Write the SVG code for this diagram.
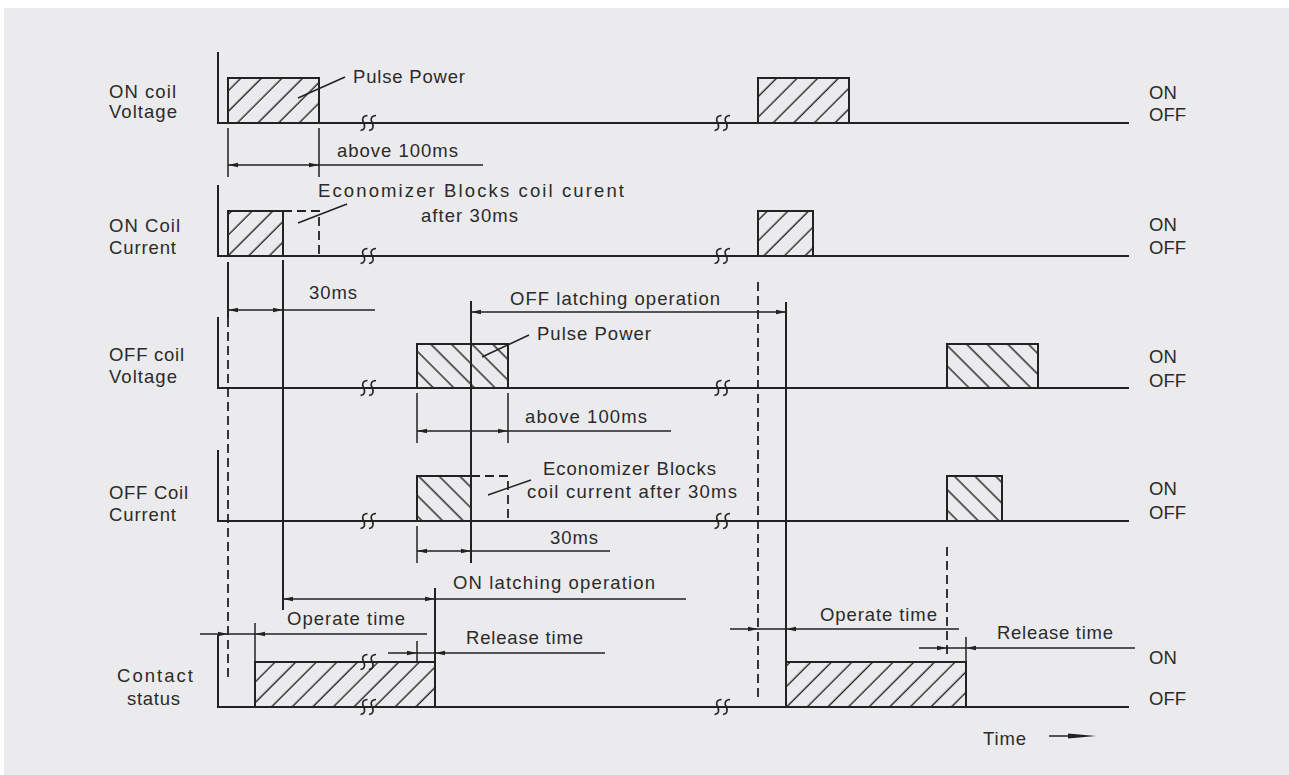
<svg xmlns="http://www.w3.org/2000/svg" width="1289" height="775" viewBox="0 0 1289 775">
<style>
.ln{stroke:#222;stroke-width:2;fill:none}
.dim{stroke:#222;stroke-width:1.5;fill:none}
.dash{stroke:#222;stroke-width:1.8;fill:none;stroke-dasharray:9 5}
.hr{fill:url(#hR);stroke:#222;stroke-width:2}
.hl{fill:url(#hL);stroke:#222;stroke-width:2}
.t{font-family:"Liberation Sans",Arial,sans-serif;font-size:18.5px;fill:#2a2a2a}
.brk{stroke:#222;stroke-width:1.6;fill:none}
.ar{marker-end:url(#ar)}
.ar2{marker-start:url(#ar);marker-end:url(#ar)}
</style>
<defs>
<pattern id="hR" patternUnits="userSpaceOnUse" width="14.57" height="10" patternTransform="rotate(45)"><line x1="7.1" y1="-1" x2="7.1" y2="11" stroke="#222" stroke-width="1.4"/></pattern>
<pattern id="hL" patternUnits="userSpaceOnUse" width="14.57" height="10" patternTransform="rotate(-45)"><line x1="3" y1="-1" x2="3" y2="11" stroke="#222" stroke-width="1.4"/></pattern>
<marker id="ar" markerUnits="userSpaceOnUse" markerWidth="10" markerHeight="6" refX="10" refY="3" orient="auto-start-reverse" viewBox="0 0 10 6"><path d="M0,0.7 L10,3 L0,5.3z" fill="#222"/></marker>
<g id="brk" class="brk"><path d="M-0.5,-7.5 C-5,-7.5 -6.5,-4 -4.5,-0.5 C-2.5,3 -3,7 -7.5,7.5"/><path d="M8,-7.5 C3.5,-7.5 2,-4 4,-0.5 C6,3 5.5,7 1,7.5"/></g>
</defs>
<rect x="0" y="0" width="1289" height="775" fill="#ffffff"/>
<rect x="4" y="8" width="1285" height="767" fill="#ebebed"/>

<g id="labels-left">
<text class="t" x="109" y="98" textLength="67" lengthAdjust="spacing">ON coil</text>
<text class="t" x="109" y="117.5" textLength="68" lengthAdjust="spacing">Voltage</text>
<text class="t" x="109" y="232" textLength="71" lengthAdjust="spacing">ON Coil</text>
<text class="t" x="109" y="254" textLength="67" lengthAdjust="spacing">Current</text>
<text class="t" x="109" y="361" textLength="75" lengthAdjust="spacing">OFF coil</text>
<text class="t" x="109" y="383" textLength="68" lengthAdjust="spacing">Voltage</text>
<text class="t" x="109" y="499" textLength="79" lengthAdjust="spacing">OFF Coil</text>
<text class="t" x="109" y="521" textLength="67" lengthAdjust="spacing">Current</text>
<text class="t" x="117" y="682" textLength="76" lengthAdjust="spacing">Contact</text>
<text class="t" x="127" y="705" textLength="53" lengthAdjust="spacing">status</text>
</g>

<g id="labels-right">
<text class="t" x="1149" y="99">ON</text>
<text class="t" x="1149" y="121">OFF</text>
<text class="t" x="1149" y="231">ON</text>
<text class="t" x="1149" y="254">OFF</text>
<text class="t" x="1149" y="363">ON</text>
<text class="t" x="1149" y="387">OFF</text>
<text class="t" x="1149" y="495">ON</text>
<text class="t" x="1149" y="519">OFF</text>
<text class="t" x="1149" y="664">ON</text>
<text class="t" x="1149" y="705">OFF</text>
</g>

<g id="row-on-coil-voltage">
<path class="ln" d="M218,52 V123 H1129"/>
<rect class="hr" x="228" y="78" width="91" height="45"/>
<rect class="hr" x="758" y="78" width="91" height="45"/>
<use href="#brk" x="368" y="123"/>
<use href="#brk" x="722" y="123"/>
<text class="t" x="353" y="82.5" textLength="112" lengthAdjust="spacing">Pulse Power</text>
</g>

<g id="row-on-coil-current">
<path class="ln" d="M218,185 V256 H1129"/>
<rect class="hr" x="228" y="211" width="55" height="45"/>
<rect class="hr" x="758" y="211" width="55" height="45"/>
<path class="dash" d="M283,211 H319 V256"/>
<use href="#brk" x="368" y="256"/>
<use href="#brk" x="722" y="256"/>
<text class="t" x="318" y="197" textLength="306" lengthAdjust="spacing">Economizer Blocks coil curent</text>
<text class="t" x="421" y="221.5" textLength="97" lengthAdjust="spacing">after 30ms</text>
</g>

<g id="row-off-coil-voltage">
<path class="ln" d="M218,317 V388 H1129"/>
<rect class="hl" x="417" y="344" width="91" height="44"/>
<rect class="hl" x="947" y="344" width="91" height="44"/>
<use href="#brk" x="368" y="388"/>
<use href="#brk" x="722" y="388"/>
<text class="t" x="537" y="340" textLength="114" lengthAdjust="spacing">Pulse Power</text>
</g>

<g id="row-off-coil-current">
<path class="ln" d="M218,450 V521 H1129"/>
<rect class="hl" x="417" y="476" width="54" height="45"/>
<rect class="hl" x="947" y="476" width="55" height="45"/>
<path class="dash" d="M471,476 H508 V521"/>
<use href="#brk" x="368" y="521"/>
<use href="#brk" x="722" y="521"/>
<text class="t" x="543" y="475" textLength="173" lengthAdjust="spacing">Economizer Blocks</text>
<text class="t" x="527" y="497.5" textLength="210" lengthAdjust="spacing">coil current after 30ms</text>
</g>

<g id="row-contact-status">
<path class="ln" d="M218,635 V707 H1129"/>
<rect class="hr" x="255" y="662" width="180" height="45"/>
<rect class="hr" x="786" y="662" width="180" height="45"/>
<use href="#brk" x="368" y="662"/>
<use href="#brk" x="368" y="707"/>
<use href="#brk" x="722" y="707"/>
</g>

<g id="connectors">
<!-- leaders -->
<path class="dim" d="M298,98 L345,77"/>
<path class="dim" d="M298,223 L347,204"/>
<path class="dim" d="M482,357 L529,335"/>
<path class="dim" d="M488,495 L531,480"/>

<!-- ON coil voltage: above 100ms -->
<path class="dim" d="M228,128 V177 M319,128 V177"/>
<path class="dim ar2" d="M228,165 H319"/>
<path class="dim" d="M319,165 H483"/>
<text class="t" x="337" y="157.3" textLength="121" lengthAdjust="spacing">above 100ms</text>

<!-- 30ms (ON) -->
<path class="ln" d="M283,260 V610"/>
<path class="ln" d="M228,262 V318"/>
<path class="dash" d="M228,318 V680"/>
<path class="dim ar2" d="M228,310 H283"/>
<path class="dim" d="M283,310 H375"/>
<text class="t" x="309" y="299.3" textLength="48" lengthAdjust="spacing">30ms</text>

<!-- OFF latching operation -->
<path class="ln" d="M471,301 V563"/>
<path class="dash" d="M758,282 V702"/>
<path class="ln" d="M786,302 V662"/>
<path class="dim ar2" d="M471,312 H786"/>
<text class="t" x="510" y="305" textLength="210" lengthAdjust="spacing">OFF latching operation</text>

<!-- OFF coil voltage: above 100ms -->
<path class="dim" d="M417,393 V443 M508,393 V443"/>
<path class="dim ar2" d="M417,431 H508"/>
<path class="dim" d="M508,431 H671"/>
<text class="t" x="525" y="423.3" textLength="122" lengthAdjust="spacing">above 100ms</text>

<!-- 30ms (OFF) -->
<path class="dim" d="M417,526 V563"/>
<path class="dim ar2" d="M417,551 H471"/>
<path class="dim" d="M471,551 H610"/>
<text class="t" x="550" y="544" textLength="48" lengthAdjust="spacing">30ms</text>
<path class="dash" d="M947,547 V657"/>

<!-- ON latching operation -->
<path class="ln" d="M435,588 V662"/>
<path class="dim ar2" d="M283,599 H435"/>
<path class="dim" d="M435,599 H686"/>
<text class="t" x="453" y="589" textLength="202" lengthAdjust="spacing">ON latching operation</text>

<!-- Operate time (left) -->
<path class="dim ar" d="M200,634 H228"/>
<path class="dim" d="M228,634 H255"/>
<path class="dim" d="M255,623 V662"/>
<path class="dim ar" d="M427,634 H255"/>
<text class="t" x="287" y="625" textLength="118" lengthAdjust="spacing">Operate time</text>

<!-- Release time (left) -->
<path class="dim ar" d="M388,653 H417"/>
<path class="dim" d="M417,641 V662"/>
<path class="dim" d="M417,653 H435"/>
<path class="dim ar" d="M605,653 H435"/>
<text class="t" x="466" y="644" textLength="117" lengthAdjust="spacing">Release time</text>

<!-- Operate time (right) -->
<path class="dim ar" d="M730,629 H758"/>
<path class="dim" d="M758,629 H786"/>
<path class="dim ar" d="M959,629 H786"/>
<text class="t" x="820" y="620.5" textLength="117" lengthAdjust="spacing">Operate time</text>

<!-- Release time (right) -->
<path class="dim ar" d="M919,648 H947"/>
<path class="dim" d="M966,637 V662"/>
<path class="dim" d="M947,648 H966"/>
<path class="dim ar" d="M1135,648 H966"/>
<text class="t" x="997" y="639" textLength="116" lengthAdjust="spacing">Release time</text>

<!-- Time arrow -->
<text class="t" x="983" y="745" textLength="43" lengthAdjust="spacing">Time</text>
<path class="dim" d="M1049,736 H1075"/>
<polygon points="1068,733.6 1096,736 1068,738.4" fill="#222"/>
</g>
</svg>
